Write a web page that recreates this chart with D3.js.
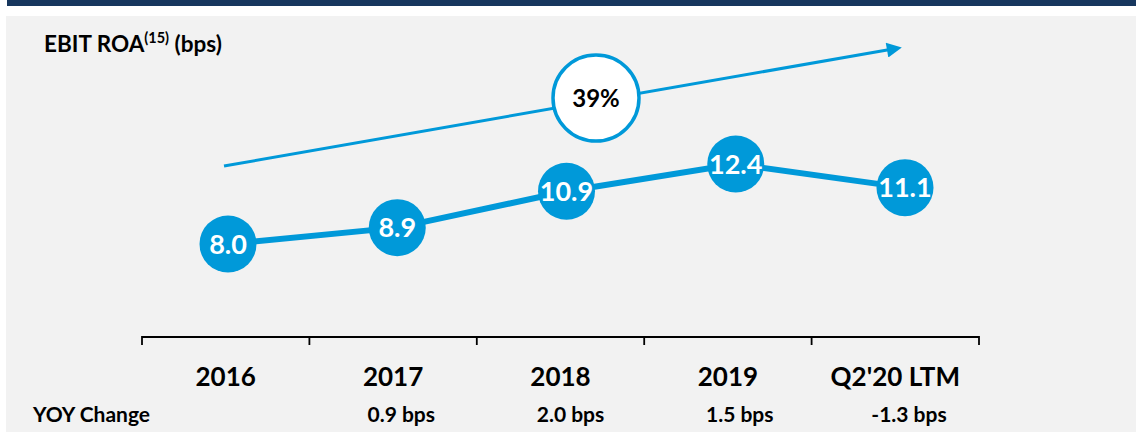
<!DOCTYPE html>
<html><head><meta charset="utf-8">
<script src="https://cdn.jsdelivr.net/npm/d3@7"></script>
<style>
html,body{margin:0;padding:0;background:#fff;}
svg{display:block;font-family:Lato,"Open Sans",sans-serif;font-weight:bold;}
</style></head><body>
<svg id="c" width="1136" height="432"></svg>
<script>
const categories = ["2016","2017","2018","2019","Q2'20 LTM"];
const values = [8.0, 8.9, 10.9, 12.4, 11.1];
const valueLabels = ["8.0","8.9","10.9","12.4","11.1"];
const yoyLabels = ["", "0.9 bps", "2.0 bps", "1.5 bps", "-1.3 bps"];
const growthLabel = "39%";

const svg = d3.select("#c");
const blue = "#0099d9";

// frame
svg.append("rect").attr("x",7).attr("y",0).attr("width",1129).attr("height",6).attr("fill","#17375e");
svg.append("rect").attr("x",6).attr("y",16).attr("width",1130).attr("height",416).attr("fill","#f2f2f2");

// title
const t = svg.append("text").attr("x",44).attr("y",52).attr("font-size",22.5).attr("fill","#000");
t.append("tspan").text("EBIT ROA");
t.append("tspan").attr("font-size",14.5).attr("dy",-9).text("(15)");
t.append("tspan").attr("dy",9).text(" (bps)");

// scales
const xBand = d3.scaleBand().domain(categories).range([142,979]).paddingInner(0).paddingOuter(0);
const xPt = d3.scalePoint().domain(categories).range([228,905]);
const y = d3.scaleLinear().domain([8.0,12.4]).range([244,164]);

// axis
const gAxis = svg.append("g").attr("transform","translate(0,337)");
gAxis.append("line").attr("x1",xBand.range()[0]).attr("x2",xBand.range()[1]).attr("stroke","#000").attr("stroke-width",1.8);
const tickPos = categories.map(c=>xBand(c)).concat([xBand.range()[1]]);
gAxis.selectAll("line.tk").data(tickPos).join("line").attr("class","tk")
  .attr("x1",d=>d).attr("x2",d=>d).attr("y1",-0.9).attr("y2",8).attr("stroke","#000").attr("stroke-width",1.8);

// category labels
svg.selectAll("text.cat").data(categories).join("text").attr("class","cat")
  .attr("x",d=>xBand(d)+xBand.bandwidth()/2).attr("y",386)
  .attr("text-anchor","middle").attr("font-size",26).text(d=>d);

// yoy
svg.append("text").attr("x",33).attr("y",422).attr("font-size",21).text("YOY Change");
svg.selectAll("text.yoy").data(categories).join("text").attr("class","yoy")
  .attr("x",d=>xPt(d)+4).attr("y",422)
  .attr("text-anchor","middle").attr("font-size",21).text((d,i)=>yoyLabels[i]);

// trend arrow
const defs = svg.append("defs");
defs.append("marker").attr("id","ah").attr("viewBox","0 0 10 10").attr("refX",2).attr("refY",5)
  .attr("markerWidth",6).attr("markerHeight",5).attr("orient","auto").attr("markerUnits","strokeWidth")
  .append("path").attr("d","M0,0 L10,5 L0,10 Z").attr("fill",blue);
const ax0 = 224, ay0 = 166, ax1 = 890, ay1 = 49.5;
svg.append("line").attr("x1",ax0).attr("y1",ay0).attr("x2",ax1).attr("y2",ay1)
  .attr("stroke",blue).attr("stroke-width",3).attr("marker-end","url(#ah)");
svg.append("circle").attr("cx",596).attr("cy",98).attr("r",43).attr("fill","#fff").attr("stroke",blue).attr("stroke-width",3.5);
svg.append("text").attr("x",596).attr("y",107).attr("text-anchor","middle").attr("font-size",24).attr("fill","#000").text(growthLabel);

// line
const line = d3.line().x((d,i)=>xPt(categories[i])).y(d=>y(d));
svg.append("path").datum(values).attr("d",line).attr("fill","none").attr("stroke",blue).attr("stroke-width",6);
svg.selectAll("circle.pt").data(values).join("circle").attr("class","pt")
  .attr("cx",(d,i)=>xPt(categories[i])).attr("cy",d=>y(d)).attr("r",28.5).attr("fill",blue);
svg.selectAll("text.val").data(values).join("text").attr("class","val")
  .attr("x",(d,i)=>xPt(categories[i])).attr("y",d=>y(d)+9.5)
  .attr("text-anchor","middle").attr("font-size",27).attr("fill","#fff").text((d,i)=>valueLabels[i]);
</script></body></html>
